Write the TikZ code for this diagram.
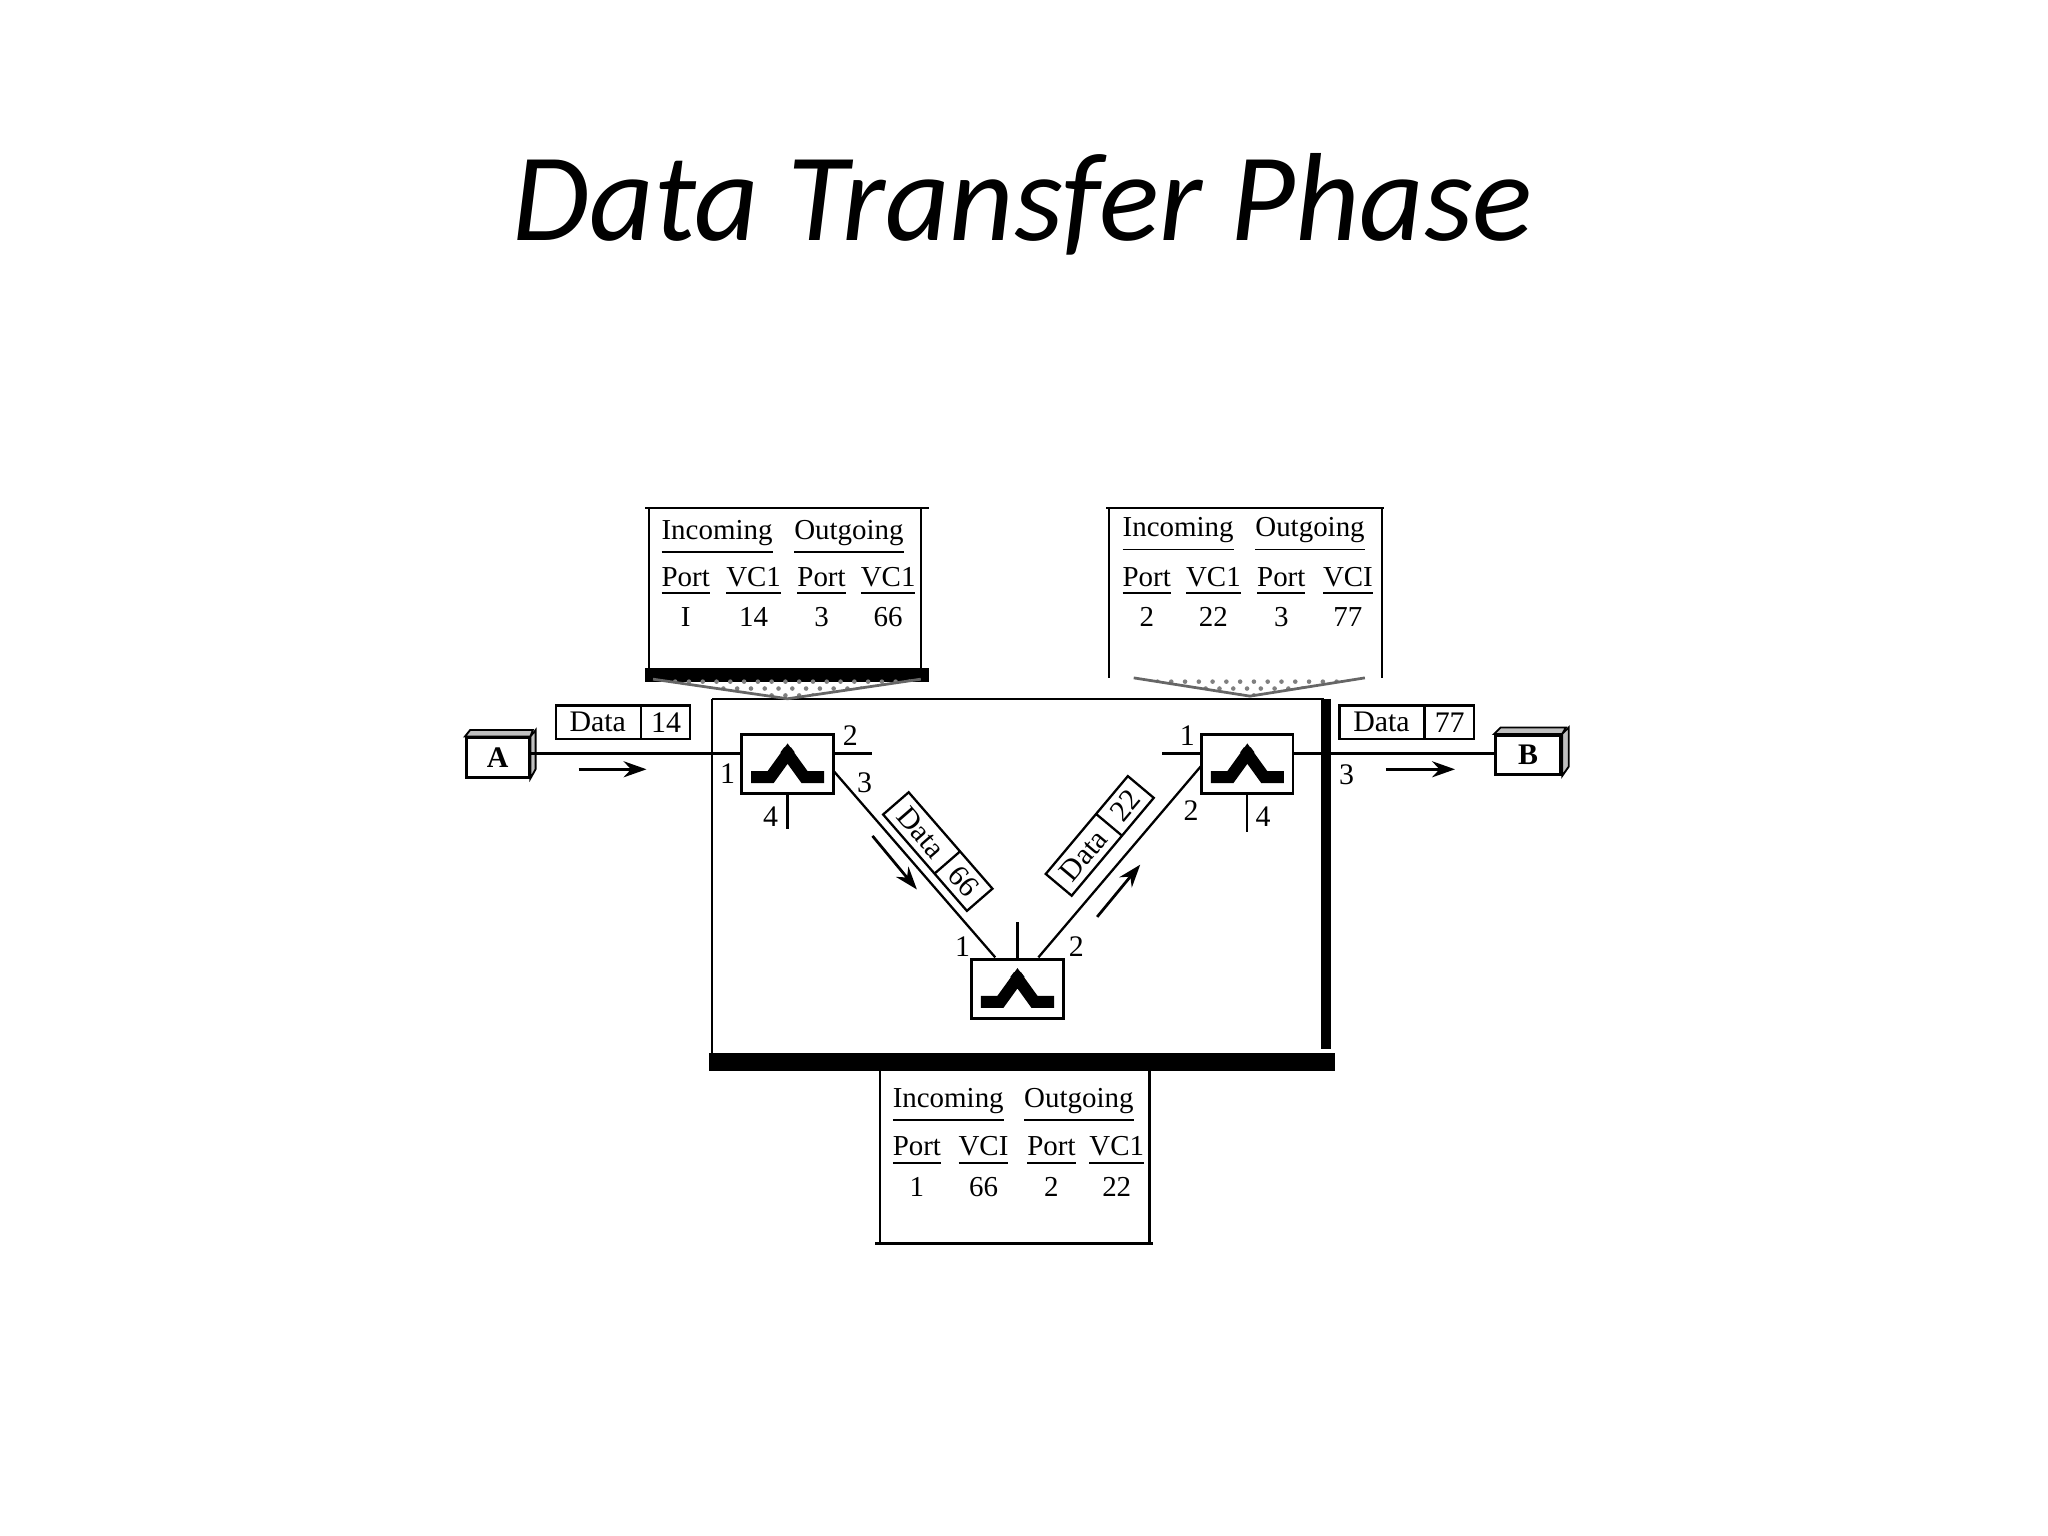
\documentclass[tikz,border=0pt]{standalone}
\usepackage{fontspec}
\setmainfont{Liberation Serif}
\newfontfamily\titlefont{Carlito}
\usetikzlibrary{arrows.meta,patterns,shapes.multipart}
\begin{document}
\begin{tikzpicture}[x=0.01cm,y=-0.01cm,
  thin line/.style={line width=0.5pt},
  tb/.style={font=\fontsize{6.3}{7}\selectfont,inner sep=0pt,anchor=base},
  lab/.style={font=\fontsize{6.5}{7}\selectfont,inner sep=0pt},
  pkt/.style={draw,line width=0.5pt,rectangle split,rectangle split horizontal,rectangle split parts=2,font=\fontsize{6.5}{7}\selectfont,inner xsep=2pt,inner ysep=1.5pt},
  swbox/.style={draw,line width=0.6pt,minimum width=0.7cm,minimum height=0.45cm,inner sep=0pt},
  arr/.style={line width=0.6pt,-{Stealth[length=5pt,width=3.5pt]}}]
\useasboundingbox (0,0) rectangle (1568,1176);
\node[font=\titlefont\itshape\fontsize{27.3}{32}\selectfont,anchor=base] (title) at (783,184) {Data Transfer Phase};

\tikzset{swicon/.pic={\draw[line width=2.6pt] (-28,10) -- (-13,10) -- (0,-8) -- (13,10) -- (28,10);
  \draw[line width=1.4pt] (-4,-11) -- (4,-5) (4,-11) -- (-4,-5);}}

% big frame
\draw[thin line] (545,535) -- (1014,535);
\draw[thin line] (545,535) -- (545,812);
\draw[line width=2.2pt] (1015,535) -- (1015,803);
\draw[line width=4pt] (543,813) -- (1022,813);

% tables
\draw[thin line] (497,517) -- (497,389) -- (705,389) -- (705,517);
\draw[thin line] (494,389) -- (711,389);
\draw[line width=3pt] (494,517) -- (711,517);
\fill[pattern=crosshatch dots, pattern color=gray] (500,520) -- (705,520) -- (603,535) -- cycle;
\draw[gray!80!black,line width=0.6pt] (500,520) -- (603,535) -- (705,520);

\draw[thin line] (849,519) -- (849,389) (1058,389) -- (1058,519);
\draw[thin line] (847,389) -- (1060,389);
\fill[pattern=crosshatch dots, pattern color=gray] (868,519) -- (1045,519) -- (957,533) -- cycle;
\draw[gray!80!black,line width=0.6pt] (868,519) -- (957,533) -- (1045,519);

\draw[thin line] (674,818) -- (674,952) (880,818) -- (880,952);
\draw[thin line] (670,952) -- (883,952);

\foreach \x/\t in {549/Incoming,650/Outgoing} \node[tb] at (\x,413) {\underline{\t}};
\foreach \x/\t in {525/Port,577/VC1,629/Port,680/VC1} \node[tb] at (\x,449) {\underline{\t}};
\foreach \x/\t in {525/I,577/14,629/3,680/66} \node[tb] at (\x,480) {\t};

\foreach \x/\t in {902/Incoming,1003/Outgoing} \node[tb] at (\x,411) {\underline{\t}};
\foreach \x/\t in {878/Port,929/VC1,981/Port,1032/VCI} \node[tb] at (\x,449) {\underline{\t}};
\foreach \x/\t in {878/2,929/22,981/3,1032/77} \node[tb] at (\x,480) {\t};

\foreach \x/\t in {726/Incoming,826/Outgoing} \node[tb] at (\x,848) {\underline{\t}};
\foreach \x/\t in {702/Port,753/VCI,805/Port,855/VC1} \node[tb] at (\x,885) {\underline{\t}};
\foreach \x/\t in {702/1,753/66,805/2,855/22} \node[tb] at (\x,916) {\t};

% hosts
\node[draw,line width=0.6pt,minimum width=0.48cm,minimum height=0.3cm,inner sep=0pt,font=\fontsize{6.5}{7}\selectfont\bfseries] (A) at (381,580) {A};
\fill[gray!50,draw=black,line width=0.4pt] (A.north west) -- ++(4,-5) -- ++(48,0) -- (A.north east) -- cycle;
\fill[gray!50,draw=black,line width=0.4pt] (A.north east) -- ++(4,-5) -- ++(0,30) -- (A.south east) -- cycle;
\node[draw,line width=0.6pt,minimum width=0.5cm,minimum height=0.3cm,inner sep=0pt,font=\fontsize{6.5}{7}\selectfont\bfseries] (B) at (1170,578) {B};
\fill[gray!50,draw=black,line width=0.4pt] (B.north west) -- ++(5,-5) -- ++(50,0) -- (B.north east) -- cycle;
\fill[gray!50,draw=black,line width=0.4pt] (B.north east) -- ++(5,-5) -- ++(0,30) -- (B.south east) -- cycle;

% switches
\node[swbox] (s1) at (603,585) {};
\node[swbox] (s3) at (955,585) {};
\node[swbox] (s2) at (779,757) {};
\pic at (s1) {swicon};
\pic at (s3) {swicon};
\pic at (s2) {swicon};

% links
\coordinate (s1p2) at (668,577);
\coordinate (s1p4) at (603,635);
\coordinate (s3p1) at (890,577);
\coordinate (s3p4) at (955,637);
\coordinate (s2top) at (779,706);
\draw[thin line] (A.east |- 0,577) -- (s1.west |- 0,577);
\draw[thin line] (s1.east |- 0,577) -- (s1p2);
\draw[thin line] (s1.south) -- (s1p4);
\draw[thin line] (s3p1) -- (s3.west |- 0,577);
\draw[thin line] (s3.east |- 0,577) -- (B.west |- 0,577);
\draw[thin line] (s3.south) -- (s3p4);
\draw[thin line] (s2.north) -- (s2top);
\coordinate (d1a) at (638,590); \coordinate (d1b) at (762,733);
\coordinate (d2a) at (795,733); \coordinate (d2b) at (920,586);
\draw[thin line] (d1a) -- (d1b);
\draw[thin line] (d2a) -- (d2b);

% port labels
\node[lab] at (651,563) {2};
\node[lab] at (557,592) {1};
\node[lab] at (662,599) {3};
\node[lab] at (590,625) {4};
\node[lab] at (909,563) {1};
\node[lab] at (1031,593) {3};
\node[lab] at (912,621) {2};
\node[lab] at (967,625) {4};
\node[lab] at (737,725) {1};
\node[lab] at (824,725) {2};

% packets
\node[pkt] (p1) at (477,553) {\makebox[0.5cm]{Data}\nodepart{two}14};
\node[pkt] (p4) at (1077,553) {\makebox[0.5cm]{Data}\nodepart{two}77};
\node[pkt,rotate=-49] (p2) at (718,652) {\makebox[0.45cm]{Data}\nodepart{two}66};
\node[pkt,rotate=50] (p3) at (842,640) {\makebox[0.45cm]{Data}\nodepart{two}22};

% arrows
\coordinate (a1s) at (443,589); \coordinate (a1e) at (495,589);
\coordinate (a4s) at (1061,589); \coordinate (a4e) at (1114,589);
\coordinate (a2s) at (668,640); \coordinate (a2e) at (702,681);
\coordinate (a3s) at (840,702); \coordinate (a3e) at (873,662);
\draw[arr] (a1s) -- (a1e);
\draw[arr] (a4s) -- (a4e);
\draw[arr] (a2s) -- (a2e);
\draw[arr] (a3s) -- (a3e);
\end{tikzpicture}
\end{document}
